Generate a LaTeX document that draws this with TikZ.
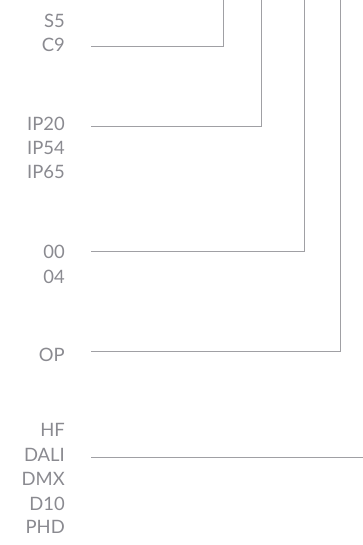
\documentclass[tikz,border=0pt]{standalone}
\usepackage{fontspec}
\setmainfont{Lato}
\definecolor{labelgray}{RGB}{138,138,144}
\definecolor{linegray}{RGB}{160,160,164}
\begin{document}
\begin{tikzpicture}[x=1bp,y=-1bp,
  lbl/.style={anchor=base east,inner sep=0pt,text=labelgray,font=\fontsize{18.5}{18.5}\selectfont},
  conn/.style={draw=linegray,line width=0.9bp}]
\useasboundingbox (0,0) rectangle (362,545);
% labels
\node[lbl] (s5)   at (65,28)    {S5};
\node[lbl] (c9)   at (65,51.5)  {C9};
\node[lbl] (ip20) at (65,131)   {IP20};
\node[lbl] (ip54) at (65,155)   {IP54};
\node[lbl] (ip65) at (65,178.5) {IP65};
\node[lbl] (n00)  at (65,258)   {00};
\node[lbl] (n04)  at (65,283)   {04};
\node[lbl] (op)   at (65,361)   {OP};
\node[lbl] (hf)   at (65,436.5) {HF};
\node[lbl] (dali) at (65,461.5) {DALI};
\node[lbl] (dmx)  at (65,485)   {DMX};
\node[lbl] (d10)  at (65,510)   {D10};
\node[lbl] (phd)  at (65,533.5) {PHD};
% connector end points
\coordinate (a0) at (91,46.5);   \coordinate (a1) at (223.3,46.5);  \coordinate (a2) at (223.3,-1);
\coordinate (b0) at (91,126);    \coordinate (b1) at (261,126);     \coordinate (b2) at (261,-1);
\coordinate (c0) at (91,251.7);  \coordinate (c1) at (304,251.7);   \coordinate (c2) at (304,-1);
\coordinate (d0) at (91,351.7);  \coordinate (d1) at (340.7,351.7); \coordinate (d2) at (340.7,-1);
\coordinate (e0) at (91,457.3);  \coordinate (e1) at (363,457.3);
% connectors
\draw[conn] (a0) -- (a1) -- (a2);
\draw[conn] (b0) -- (b1) -- (b2);
\draw[conn] (c0) -- (c1) -- (c2);
\draw[conn] (d0) -- (d1) -- (d2);
\draw[conn] (e0) -- (e1);
\end{tikzpicture}
\end{document}
